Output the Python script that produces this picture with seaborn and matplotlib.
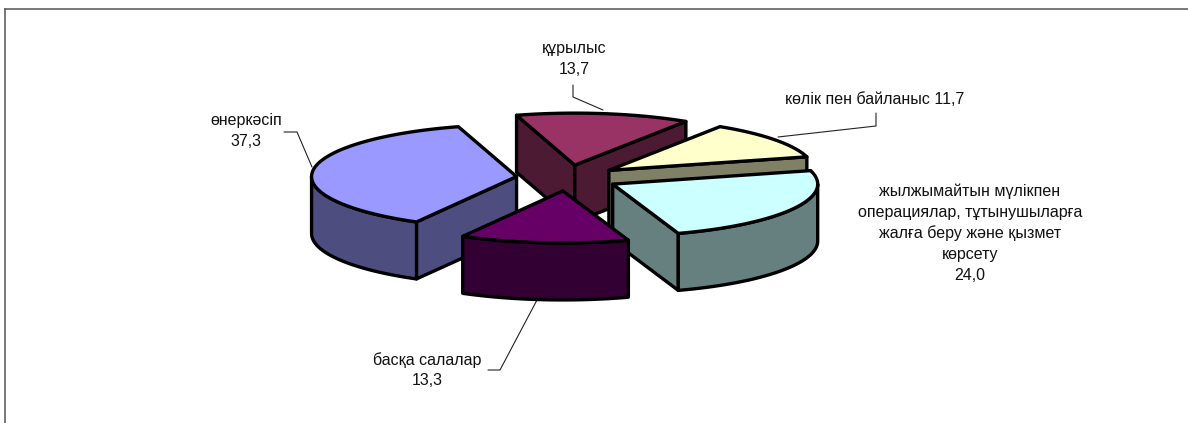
import numpy as np
import matplotlib
matplotlib.use('Agg')
import matplotlib.pyplot as plt
from matplotlib.patches import Polygon
import seaborn as sns

# data, in clockwise order from the top
labels = ['құрылыс\n', 'көлік пен байланыс ', 'жылжымайтын мүлікпен\nоперациялар, тұтынушыларға\nжалға беру және қызмет\nкөрсету\n', 'басқа салалар\n', 'өнеркәсіп\n']
values = [13.7, 11.7, 24.0, 13.3, 37.3]
tops = ['#993366', '#FFFFCC', '#CCFFFF', '#660066', '#9999FF']

# pie layout in pixels
cx, cy = 567.5, 178
rx, ry = 205, 52
depth = 57
explode = 0.25
start = -16.5

sns.set_theme(style='white')
plt.rcParams['font.family'] = ['Liberation Sans', 'DejaVu Sans']

W, H = 1188, 423
fig = plt.figure(figsize=(W / 100, H / 100), dpi=100)
ax = fig.add_axes([5 / W, 0, 1 - 5 / W, 1 - 9 / H])
ax.set_xlim(5, W)
ax.set_ylim(H, 9)
ax.set_xticks([])
ax.set_yticks([])
sns.despine(ax=ax, top=False, right=True, bottom=True)
for s in ['top', 'left']:
    ax.spines[s].set_color('#555555')
    ax.spines[s].set_linewidth(1.1)


def point(c, ang, r=1.0):
    t = np.radians(ang)
    return np.column_stack([c[0] + r * rx * np.sin(t), c[1] - r * ry * np.cos(t)])


def shade(col):
    return tuple(v / 2 for v in matplotlib.colors.to_rgb(col))


def face(pts, col):
    ax.add_patch(Polygon(pts, closed=True, facecolor=col, edgecolor='black', linewidth=2.4, joinstyle='round'))


def wall(pts, col):
    low = pts[::-1] + [0, depth]
    face(np.vstack([pts, low]), col)


ends = start + np.cumsum(values) / sum(values) * 360
begins = np.r_[start, ends[:-1]]

# back slices first
for i in [0, 1, 4, 2, 3]:
    a0, a1 = begins[i], ends[i]
    mid = np.radians((a0 + a1) / 2)
    c = (cx + explode * rx * np.sin(mid), cy - explode * ry * np.cos(mid))
    apex = np.array([c])
    dark = shade(tops[i])
    # side walls that face the viewer
    if np.sin(np.radians(a0)) < 0:
        wall(np.vstack([apex, point(c, np.array([a0]))]), dark)
    if np.sin(np.radians(a1)) > 0:
        wall(np.vstack([apex, point(c, np.array([a1]))]), dark)
    # rim, only the front half of the ellipse
    lo, hi = max(a0, 90), min(a1, 270)
    if lo < hi:
        wall(point(c, np.linspace(lo, hi, 80)), dark)
    face(np.vstack([apex, point(c, np.linspace(a0, a1, 120))]), tops[i])

# labels
text_pos = [(574, 59), (875, 99), (970, 233), (427, 370), (246, 131)]
for name, v, (x, y) in zip(labels, values, text_pos):
    ax.text(x, y, name + f'{v:.1f}'.replace('.', ','), ha='center', va='center',
            fontsize=11.5, color='#111111', linespacing=1.47)

# leader lines
leaders = [
    ([573, 573, 603], [85, 97, 110]),
    ([876, 876, 778], [113, 126, 137]),
    ([488, 500, 537], [370, 370, 300]),
    ([284, 297, 312], [132, 132, 167]),
]
for xs, ys in leaders:
    ax.plot(xs, ys, color='#222222', linewidth=0.8, zorder=0.5)

fig.savefig('out.png', dpi=100)
